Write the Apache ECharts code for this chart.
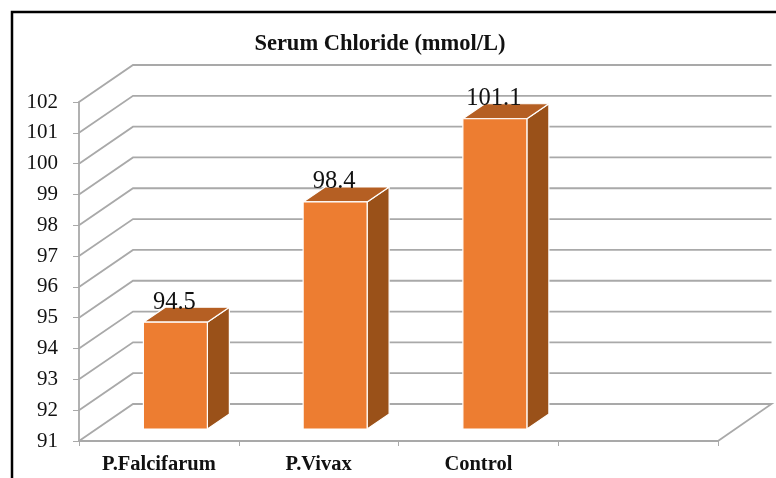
<!DOCTYPE html>
<html>
<head>
<meta charset="utf-8">
<style>
  html, body { margin: 0; padding: 0; background: #fff; }
  #chart { width: 776px; height: 478px; }
</style>
<script src="https://cdn.jsdelivr.net/npm/echarts@6/dist/echarts.min.js"></script>
</head>
<body>
<div id="chart"></div>
<script>
const categories = ['P.Falcifarum', 'P.Vivax', 'Control', '']
const chlorideValues = [94.5, 98.4, 101.1]
const yTicks = [91, 92, 93, 94, 95, 96, 97, 98, 99, 100, 101, 102]

const serif = '"Liberation Serif", "Times New Roman", serif'
const gridColor = '#a9a9a9'

// depth of the fake 3D floor, and of the bars standing on it
const wallDx = 54, wallDy = 37
const barShiftX = 16.5, barShiftY = 12
const barW = 64, barDx = 22, barDy = 15

let myChart = echarts.init(document.getElementById('chart'))

// 3D wall lines: front left -> back left -> back right
function renderWall(params, api) {
  let sys = params.coordSys
  let p = api.coord([0, api.value(0)])
  let y = p[1]
  let left = sys.x, right = sys.x + sys.width
  let points = [[left, y], [left + wallDx, y - wallDy], [right + wallDx - 0.5, y - wallDy]]
  // floor closes on the right side
  if (api.value(0) === yTicks[0]) points.push([right, y])
  return {
    type: 'polyline',
    shape: { points: points },
    style: { stroke: gridColor, fill: null, lineWidth: 1.8 }
  }
}

function renderBar(params, api) {
  let base = api.coord([api.value(0), yTicks[0]])
  let top = api.coord([api.value(0), api.value(1)])
  let x0 = base[0] + barShiftX - barW / 2
  let x1 = x0 + barW
  let y0 = base[1] - barShiftY
  // the bar stands on the floor, so its top rises by the same shift
  let y1 = top[1] - barShiftY + 1
  let edge = { stroke: '#fff', lineWidth: 1.2, lineJoin: 'round' }
  return {
    type: 'group',
    children: [
      {
        type: 'polygon',
        shape: { points: [[x1, y1], [x1 + barDx, y1 - barDy], [x1 + barDx, y0 - barDy], [x1, y0]] },
        style: Object.assign({ fill: '#9A5119' }, edge)
      },
      {
        type: 'polygon',
        shape: { points: [[x0, y1], [x0 + barDx, y1 - barDy], [x1 + barDx, y1 - barDy], [x1, y1]] },
        style: Object.assign({ fill: '#B55F23' }, edge)
      },
      {
        type: 'rect',
        shape: { x: x0, y: y1, width: barW, height: y0 - y1 },
        style: Object.assign({ fill: '#ED7D31' }, edge)
      },
      {
        type: 'text',
        x: x0 + barW / 2 - 1,
        y: y1 - 20,
        style: {
          text: String(api.value(1)),
          font: '24.5px ' + serif,
          fill: '#111',
          align: 'center',
          verticalAlign: 'middle'
        }
      }
    ]
  }
}

let opt = {
  animation: false,
  backgroundColor: '#fff',
  title: {
    text: 'Serum Chloride (mmol/L)',
    left: 375,
    top: 28,
    textAlign: 'center',
    textStyle: { fontFamily: serif, fontSize: 22.5, fontWeight: 'bold', color: '#111' }
  },
  grid: { left: 79, right: 58, top: 102, bottom: 37 },
  // black frame, cropped at the right and bottom in the picture
  graphic: [
    {
      type: 'polyline',
      shape: { points: [[12, 478], [12, 12], [776, 12]] },
      style: { stroke: '#000', fill: null, lineWidth: 2.5 }
    }
  ],
  xAxis: {
    type: 'category',
    data: categories,
    axisLine: { lineStyle: { color: gridColor, width: 1.8 } },
    axisTick: { show: true, length: 5, lineStyle: { color: gridColor, width: 1 } },
    axisLabel: {
      margin: 13,
      fontFamily: serif,
      fontSize: 20.5,
      fontWeight: 'bold',
      color: '#111'
    }
  },
  yAxis: {
    type: 'value',
    min: 91,
    max: 102,
    interval: 1,
    axisLine: { show: true, lineStyle: { color: gridColor, width: 1.8 } },
    axisTick: { show: true, length: 6, lineStyle: { color: gridColor, width: 1 } },
    axisLabel: { margin: 21, padding: [4, 0, 0, 0], fontFamily: serif, fontSize: 21, color: '#111' },
    splitLine: { show: false }
  },
  series: [
    {
      type: 'custom',
      name: 'wall',
      coordinateSystem: 'cartesian2d',
      clip: false,
      silent: true,
      z: 1,
      encode: { y: 0 },
      data: yTicks.map(v => [v]),
      renderItem: renderWall
    },
    {
      type: 'custom',
      name: 'Serum Chloride',
      coordinateSystem: 'cartesian2d',
      clip: false,
      z: 3,
      encode: { x: 0, y: 1 },
      data: chlorideValues.map((v, i) => [i, v]),
      renderItem: renderBar
    }
  ]
}

myChart.setOption(opt)
</script>
</body>
</html>
